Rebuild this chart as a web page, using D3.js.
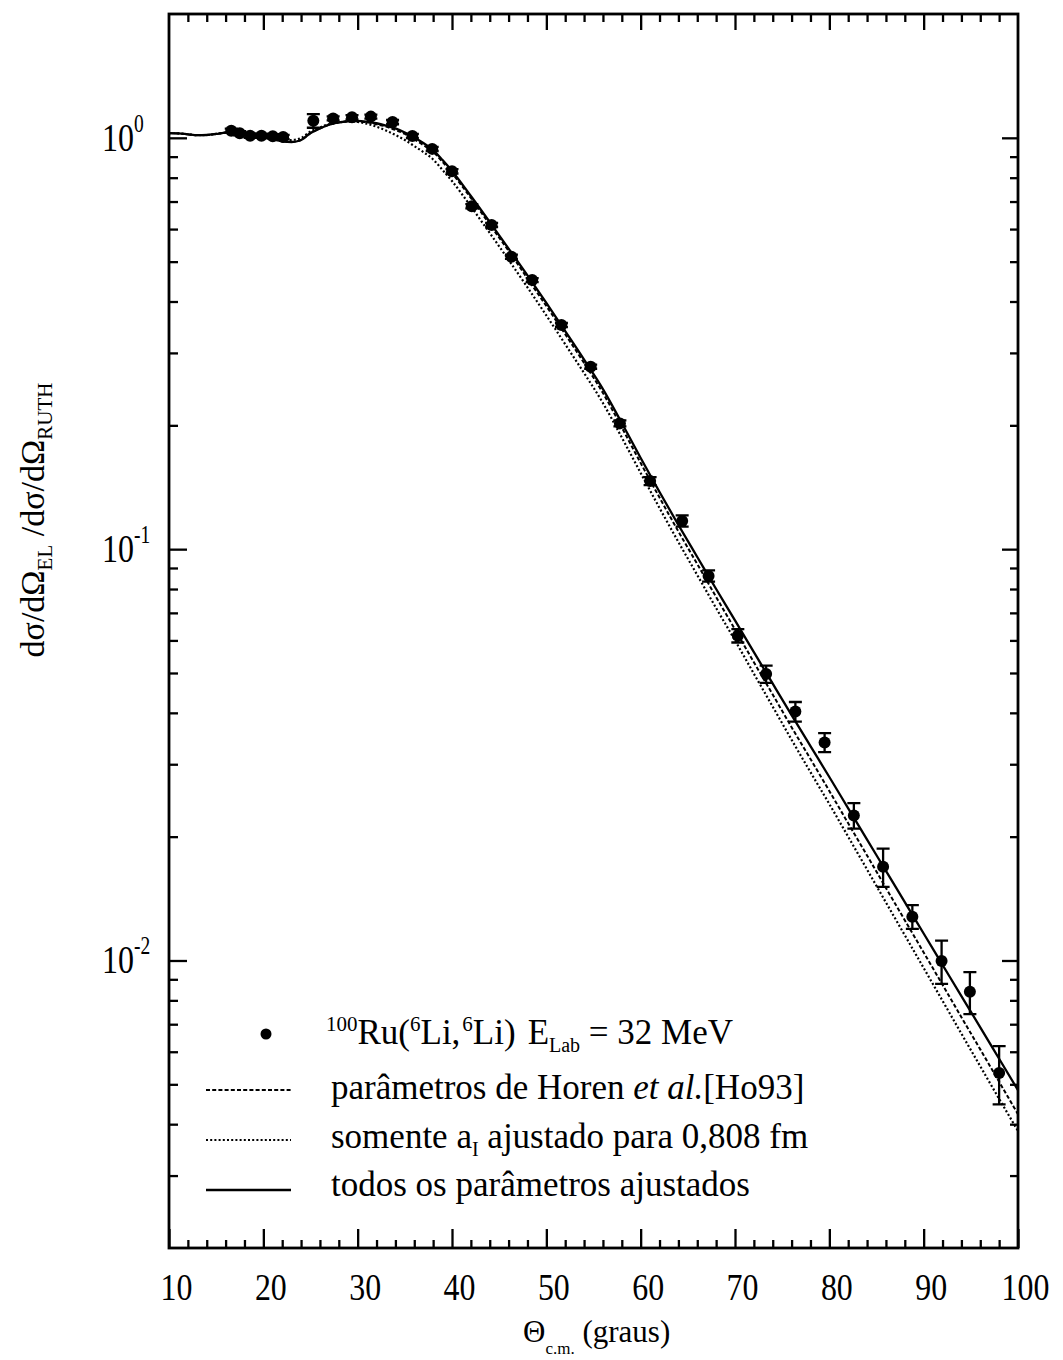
<!DOCTYPE html>
<html>
<head>
<meta charset="utf-8">
<script src="https://cdn.jsdelivr.net/npm/d3@7"></script>
<style>
  html, body { margin: 0; background: #fff; }
  svg { display: block; }
  text { font-family: "Liberation Serif", "Times New Roman", serif; fill: #000; white-space: pre; }
</style>
</head>
<body>
<svg id="chart" width="1063" height="1360"></svg>
<script>
// Elastic scattering 100Ru(6Li,6Li), E_Lab = 32 MeV: ratio to Rutherford vs c.m. angle
const thetaCM = [16.6, 17.5, 18.6, 19.8, 21.0, 22.1, 25.3, 27.4, 29.4, 31.4, 33.7, 35.8, 37.9, 40.0,
  42.1, 44.2, 46.3, 48.5, 51.6, 54.7, 57.8, 61.0, 64.4, 67.2, 70.3, 73.3, 76.4, 79.5, 82.6, 85.7,
  88.8, 91.9, 94.9, 98.0];
const ratio = [1.041, 1.026, 1.012, 1.012, 1.009, 1.005, 1.100, 1.115, 1.122, 1.126, 1.092, 1.010,
  0.940, 0.829, 0.682, 0.614, 0.514, 0.451, 0.3507, 0.2777, 0.2022, 0.1464, 0.1171, 0.0861, 0.0616,
  0.0497, 0.0403, 0.0339, 0.02252, 0.01690, 0.01278, 0.00997, 0.00839, 0.00533];
const ratioErr = [0.012, 0.012, 0.012, 0.012, 0.012, 0.012, 0.042, 0.013, 0.013, 0.013, 0.013, 0.012,
  0.011, 0.010, 0.008, 0.007, 0.006, 0.005, 0.004, 0.0032, 0.0034, 0.0033, 0.0037, 0.0027, 0.0023,
  0.0024, 0.0022, 0.0018, 0.0016, 0.0018, 0.00085, 0.0012, 0.00098, 0.00086];

// Optical-model calculations on a common angle grid
const curveTheta = [10, 11, 12, 13, 14, 15, 16, 17, 18, 19, 20, 21, 22, 23, 24, 25, 26, 27, 28, 29,
  30, 31, 32, 33, 34, 35, 36, 37, 38, 39, 40, 42, 44, 46, 48, 50, 52, 54, 56, 58, 60, 62, 64, 66, 68,
  70, 72, 74, 76, 78, 80, 82, 84, 86, 88, 90, 92, 94, 96, 98, 100];
// parâmetros de Horen et al. [Ho93]
const fitHoren = [1.027, 1.025, 1.020, 1.015, 1.016, 1.022, 1.030, 1.034, 1.029, 1.017, 1.004, 0.991,
  0.981, 0.977, 0.988, 1.027, 1.054, 1.077, 1.090, 1.097, 1.096, 1.091, 1.079, 1.065, 1.045, 1.022,
  0.991, 0.959, 0.924, 0.874, 0.821, 0.714, 0.616, 0.531, 0.455, 0.390, 0.333, 0.2835, 0.2397, 0.1976,
  0.1620, 0.1335, 0.1104, 0.0920, 0.0765, 0.0638, 0.0531, 0.0443, 0.0369, 0.0309, 0.02583, 0.02155,
  0.01800, 0.01501, 0.01253, 0.01046, 0.00873, 0.00728, 0.00608, 0.00507, 0.00423];
// somente a_I ajustado para 0,808 fm
const fitAI = [1.027, 1.025, 1.020, 1.015, 1.016, 1.022, 1.030, 1.034, 1.029, 1.017, 1.004, 0.991,
  0.986, 0.988, 0.999, 1.036, 1.060, 1.080, 1.090, 1.097, 1.093, 1.082, 1.064, 1.042, 1.016, 0.988,
  0.955, 0.922, 0.886, 0.835, 0.785, 0.681, 0.587, 0.505, 0.433, 0.370, 0.315, 0.268, 0.2266, 0.1868,
  0.1532, 0.1259, 0.1041, 0.0865, 0.0719, 0.0600, 0.0498, 0.0414, 0.0344, 0.0287, 0.02401, 0.01999,
  0.01664, 0.01384, 0.01152, 0.00959, 0.00798, 0.00664, 0.00553, 0.00461, 0.00385];
// todos os parâmetros ajustados
const fitAll = [1.027, 1.025, 1.020, 1.015, 1.016, 1.022, 1.030, 1.034, 1.029, 1.017, 1.004, 0.991,
  0.981, 0.977, 0.988, 1.027, 1.054, 1.077, 1.090, 1.097, 1.099, 1.094, 1.085, 1.071, 1.054, 1.030,
  1.002, 0.970, 0.934, 0.883, 0.831, 0.722, 0.624, 0.538, 0.463, 0.397, 0.339, 0.289, 0.245, 0.2026,
  0.1666, 0.1377, 0.1145, 0.0957, 0.0800, 0.0671, 0.0562, 0.0471, 0.0395, 0.0332, 0.02793, 0.02344,
  0.01968, 0.01651, 0.01386, 0.01163, 0.00976, 0.00819, 0.00688, 0.00577, 0.00484];

// Axis ticks
const xMajor = [10, 20, 30, 40, 50, 60, 70, 80, 90, 100];
const xMinor = d3.range(12, 100, 2).filter(v => v % 10 !== 0);
const yMajor = [0.01, 0.1, 1];
const yMinor = [0.003, 0.004, 0.005, 0.006, 0.007, 0.008, 0.009,
  0.02, 0.03, 0.04, 0.05, 0.06, 0.07, 0.08, 0.09,
  0.2, 0.3, 0.4, 0.5, 0.6, 0.7, 0.8, 0.9];
const yLabels = [{ v: 1, exp: "0" }, { v: 0.1, exp: "-1" }, { v: 0.01, exp: "-2" }];

// Frame geometry
const X0 = 169, X1 = 1018, Y0 = 14, Y1 = 1248;
const svg = d3.select("#chart");
const x = d3.scaleLinear().domain([10, 100]).range([X0, X1]);
const y = d3.scaleLog().domain([0.002, 2]).range([Y1, Y0]);

// Curves
const styles = {
  horen: { dash: "4,2.2", width: 2.0 },
  ai: { dash: "2,2.2", width: 2.2 },
  all: { dash: null, width: 2.3 }
};
const series = [
  { values: fitAI, st: styles.ai },
  { values: fitHoren, st: styles.horen },
  { values: fitAll, st: styles.all }
];
const line = d3.line().x(d => x(d[0])).y(d => y(d[1])).curve(d3.curveMonotoneX);
const gCurves = svg.append("g").attr("fill", "none").attr("stroke", "#000");
series.forEach(s => {
  gCurves.append("path")
    .attr("d", line(curveTheta.map((t, i) => [t, s.values[i]])))
    .attr("stroke-width", s.st.width)
    .attr("stroke-dasharray", s.st.dash);
});

// Data points with error bars
const pts = thetaCM.map((t, i) => ({ t, v: ratio[i], e: ratioErr[i] }));
const gPts = svg.append("g");
const cap = 6.5;
pts.forEach(p => {
  const ya = y(p.v + p.e), yb = y(p.v - p.e), xp = x(p.t);
  gPts.append("path")
    .attr("d", `M${xp},${ya}V${yb}M${xp - cap},${ya}H${xp + cap}M${xp - cap},${yb}H${xp + cap}`)
    .attr("stroke", "#000").attr("stroke-width", 2.3).attr("fill", "none");
});
gPts.selectAll("circle").data(pts).join("circle")
  .attr("cx", d => x(d.t)).attr("cy", d => y(d.v)).attr("r", 6).attr("fill", "#000");

// Frame
svg.append("rect").attr("x", X0).attr("y", Y0).attr("width", X1 - X0).attr("height", Y1 - Y0)
  .attr("fill", "none").attr("stroke", "#000").attr("stroke-width", 2.8);

function styleAxis(g) {
  g.select(".domain").remove();
  g.selectAll(".tick line").attr("stroke", "#000").attr("stroke-width", 2.3);
}
// bottom
svg.append("g").attr("transform", `translate(0,${Y1})`)
  .call(d3.axisBottom(x).tickValues(xMinor).tickSize(-8).tickFormat(() => "")).call(styleAxis);
const gxb = svg.append("g").attr("transform", `translate(0,${Y1})`)
  .call(d3.axisBottom(x).tickValues(xMajor).tickSize(-19).tickPadding(25).tickFormat(d3.format("d")))
  .call(styleAxis);
gxb.selectAll(".tick text")
  .attr("font-family", '"Liberation Serif", serif').attr("font-size", 38).attr("fill", "#000")
  .attr("transform", "translate(7,0) scale(0.84,1)");
// top
svg.append("g").attr("transform", `translate(0,${Y0})`)
  .call(d3.axisTop(x).tickValues(xMinor).tickSize(-8).tickFormat(() => "")).call(styleAxis);
svg.append("g").attr("transform", `translate(0,${Y0})`)
  .call(d3.axisTop(x).tickValues(xMajor.filter(v => v > 10 && v < 100)).tickSize(-16).tickFormat(() => ""))
  .call(styleAxis);
// left
svg.append("g").attr("transform", `translate(${X0},0)`)
  .call(d3.axisLeft(y).tickValues(yMinor).tickSize(-9).tickFormat(() => "")).call(styleAxis);
svg.append("g").attr("transform", `translate(${X0},0)`)
  .call(d3.axisLeft(y).tickValues(yMajor).tickSize(-18).tickFormat(() => "")).call(styleAxis);
// right
svg.append("g").attr("transform", `translate(${X1},0)`)
  .call(d3.axisRight(y).tickValues(yMinor).tickSize(-8).tickFormat(() => "")).call(styleAxis);
svg.append("g").attr("transform", `translate(${X1},0)`)
  .call(d3.axisRight(y).tickValues(yMajor).tickSize(-16).tickFormat(() => "")).call(styleAxis);

// Y tick labels as powers of ten
yLabels.forEach(d => {
  const t = svg.append("g").attr("transform", `translate(102,${y(d.v) + 13}) scale(0.78,1)`)
    .append("text").attr("font-size", 41);
  t.append("tspan").text("10");
  t.append("tspan").attr("font-size", 25).attr("dy", -19).text(d.exp);
});

// Y axis title
const yt = svg.append("g").attr("transform", "translate(44,520) rotate(-90)")
  .append("text").attr("text-anchor", "middle").attr("font-size", 34);
yt.append("tspan").text("dσ/dΩ");
yt.append("tspan").attr("font-size", 21).attr("dy", 8).text("EL");
yt.append("tspan").attr("dy", -8).text(" /dσ/dΩ");
yt.append("tspan").attr("font-size", 21).attr("dy", 8).text("RUTH");

// X axis title
const xt = svg.append("text").attr("x", 523).attr("y", 1342).attr("font-size", 31);
xt.append("tspan").text("Θ");
xt.append("tspan").attr("font-size", 17).attr("dy", 12).text("c.m.");
xt.append("tspan").attr("dy", -12).text(" (graus)");

// Legend
const L = svg.append("g");
L.append("circle").attr("cx", 266).attr("cy", 1034).attr("r", 5.5).attr("fill", "#000");
const l1 = L.append("text").attr("x", 326).attr("y", 1044).attr("font-size", 35);
l1.append("tspan").attr("font-size", 21).attr("dy", -13).text("100");
l1.append("tspan").attr("dy", 13).text("Ru(");
l1.append("tspan").attr("font-size", 21).attr("dy", -13).text("6");
l1.append("tspan").attr("dy", 13).text("Li,");
l1.append("tspan").attr("font-size", 21).attr("dy", -13).attr("dx", 2).text("6");
l1.append("tspan").attr("dy", 13).text("Li)");
l1.append("tspan").attr("dx", 12).text("E");
l1.append("tspan").attr("font-size", 20).attr("dy", 8).text("Lab");
l1.append("tspan").attr("dy", -8).text(" = 32 MeV");

const legendRows = [
  { y: 1090, st: styles.horen },
  { y: 1140, st: styles.ai },
  { y: 1190, st: styles.all }
];
legendRows.forEach(r => {
  L.append("line").attr("x1", 206).attr("x2", 291).attr("y1", r.y).attr("y2", r.y)
    .attr("stroke", "#000").attr("stroke-width", r.st.width).attr("stroke-dasharray", r.st.dash);
});
const l2 = L.append("text").attr("x", 331).attr("y", 1099).attr("font-size", 35);
l2.append("tspan").text("parâmetros de Horen ");
l2.append("tspan").attr("font-style", "italic").text("et al.");
l2.append("tspan").text("[Ho93]");
const l3 = L.append("text").attr("x", 331).attr("y", 1148).attr("font-size", 35);
l3.append("tspan").text("somente a");
l3.append("tspan").attr("font-size", 20).attr("dy", 8).text("I");
l3.append("tspan").attr("dy", -8).text(" ajustado para 0,808 fm");
L.append("text").attr("x", 331).attr("y", 1196).attr("font-size", 35).text("todos os parâmetros ajustados");
</script>
</body>
</html>
